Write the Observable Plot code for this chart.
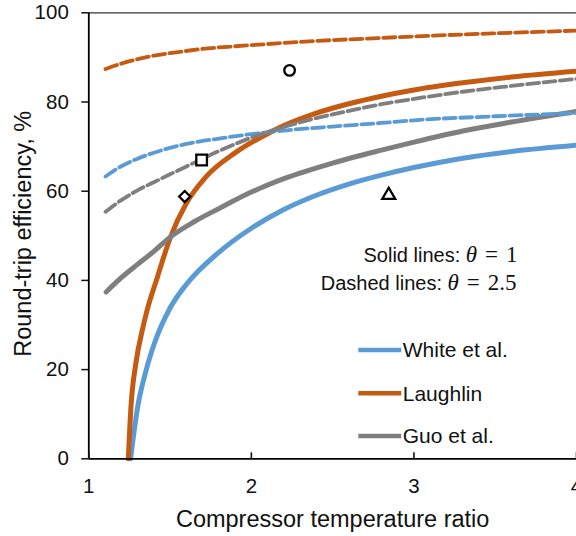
<!DOCTYPE html>
<html><head><meta charset="utf-8">
<script src="https://cdn.jsdelivr.net/npm/d3@7"></script>
<script src="https://cdn.jsdelivr.net/npm/@observablehq/plot@0.6"></script>
<style>body{margin:0;background:#fff}</style>
</head><body><div id="chart"></div>
<script>
// ---- data ----
const xTicks = [1, 2, 3, 4];
const yTicks = [0, 20, 40, 60, 80, 100];
const xLabel = "Compressor temperature ratio";
const yLabel = "Round-trip efficiency, %";

const seriesNames = ["White et al.", "Laughlin", "Guo et al."];
const seriesColors = ["#5B9BD5", "#C55A11", "#7F7F7F"];

// Solid lines: theta = 1
const whiteSolidX = [1.257, 1.30, 1.35, 1.40, 1.50, 1.60, 1.80, 2.00, 2.20, 2.40, 2.60, 2.80, 3.00, 3.30, 3.60, 4.00];
const whiteSolidY = [0, 11.5, 19.5, 25.5, 33.8, 39.1, 46.3, 51.7, 55.9, 59.1, 61.6, 63.6, 65.3, 67.4, 68.9, 70.3];
const laughSolidX = [1.243, 1.26, 1.29, 1.33, 1.36, 1.42, 1.50, 1.60, 1.72, 1.90, 2.10, 2.20, 2.40, 2.60, 2.80, 3.00, 3.30, 3.60, 4.00];
const laughSolidY = [0, 12, 21.5, 29, 33.5, 40.5, 49.5, 57.3, 63.2, 68.6, 72.9, 74.7, 77.5, 79.6, 81.3, 82.7, 84.3, 85.6, 86.9];
const guoSolidX = [1.107, 1.20, 1.30, 1.40, 1.50, 1.65, 1.80, 2.00, 2.20, 2.50, 2.80, 3.00, 3.30, 3.60, 4.00];
const guoSolidY = [37.4, 40.6, 43.6, 46.5, 49.7, 53.2, 56.1, 59.8, 62.8, 66.3, 69.2, 71.0, 73.5, 75.5, 77.9];

// Dashed lines: theta = 2.5
const whiteDashX = [1.103, 1.20, 1.30, 1.45, 1.60, 1.80, 2.00, 2.20, 2.50, 2.80, 3.00, 3.50, 4.00];
const whiteDashY = [63.3, 65.6, 67.3, 69.2, 70.6, 71.8, 72.8, 73.6, 74.5, 75.3, 75.9, 76.8, 77.5];
const laughDashX = [1.103, 1.20, 1.30, 1.40, 1.55, 1.70, 1.90, 2.10, 2.40, 2.70, 3.00, 3.50, 4.00];
const laughDashY = [87.4, 88.6, 89.6, 90.4, 91.2, 91.9, 92.5, 93.0, 93.7, 94.2, 94.7, 95.4, 96.0];
const guoDashX = [1.103, 1.20, 1.30, 1.40, 1.50, 1.65, 1.80, 2.00, 2.20, 2.40, 2.60, 2.80, 3.00, 3.30, 3.60, 4.00];
const guoDashY = [55.4, 58.0, 60.2, 62.0, 63.8, 66.4, 69.0, 72.0, 74.4, 76.4, 78.0, 79.5, 80.7, 82.3, 83.6, 85.2];

// Experimental points
const pointX = [2.235, 1.694, 1.59, 2.845];
const pointY = [87.1, 67.0, 58.8, 59.1];
const pointSymbol = ["circle", "square", "diamond2", "triangle"];
const pointR = [5.3, 6.0, 5.0, 4.8];

const annotationLines = [["Solid lines: ", "θ", "=", "1"], ["Dashed lines: ", "θ", "=", "2.5"]];

// ---- build ----
const toRows = (xs, ys) => xs.map((x, i) => ({x, y: ys[i]}));
const solids = [[whiteSolidX, whiteSolidY], [laughSolidX, laughSolidY], [guoSolidX, guoSolidY]];
const dashes = [[whiteDashX, whiteDashY], [laughDashX, laughDashY], [guoDashX, guoDashY]];

const font = "'Liberation Sans', Arial, sans-serif";
const W = 576, H = 536, mL = 88.3, mR = 0, mT = 12.3, mB = 77.7;

const marks = [];
marks.push(Plot.ruleY([100], {stroke: "#333", strokeWidth: 1.3}));
solids.forEach(([xs, ys], i) => marks.push(Plot.line(toRows(xs, ys), {x: "x", y: "y", stroke: seriesColors[i], strokeWidth: 5, curve: "monotone-x"})));
dashes.forEach(([xs, ys], i) => marks.push(Plot.line(toRows(xs, ys), {x: "x", y: "y", stroke: seriesColors[i], strokeWidth: 3.8, strokeDasharray: "12,4.5", curve: "monotone-x"})));
pointX.forEach((x, i) => marks.push(Plot.dot([{x, y: pointY[i]}], {x: "x", y: "y", symbol: pointSymbol[i], r: pointR[i], fill: "white", stroke: "black", strokeWidth: 2.3})));
marks.push(Plot.ruleX([1], {stroke: "#000", strokeWidth: 1.8}));
marks.push(Plot.ruleY([0], {stroke: "#000", strokeWidth: 1.8}));
marks.push(Plot.axisY({ticks: yTicks, tickSize: 7, tickPadding: 13, label: null, fontSize: 20.5, strokeWidth: 1.5, tickFormat: d => String(d)}));
// inward x ticks
marks.push(Plot.axisX({ticks: xTicks, tickSize: 6, dy: -6, label: null, strokeWidth: 1.6, tickFormat: () => ""}));
marks.push(Plot.axisX({ticks: xTicks, tickSize: 0, tickPadding: 20, label: null, fontSize: 20.5, tickFormat: d => String(d)}));
marks.push(Plot.text([yLabel], {frameAnchor: "left", textAnchor: "middle", lineAnchor: "middle", rotate: -90, dx: -65.5, dy: -2, fontSize: 23.5, fill: "#111"}));
marks.push(Plot.text([xLabel], {frameAnchor: "bottom", textAnchor: "middle", lineAnchor: "middle", dy: 61, fontSize: 23.5, fill: "#111"}));

const plot = Plot.plot({
  width: W, height: H,
  marginTop: mT, marginBottom: mB, marginLeft: mL, marginRight: mR,
  x: {domain: [1, 4]},
  y: {domain: [0, 100]},
  style: {fontFamily: font, color: "#111", background: "white"},
  marks
});
document.getElementById("chart").appendChild(plot);

// ---- annotation & legend ----
const sx = plot.scale("x"), sy = plot.scale("y");
const svg = d3.select(plot);
const ann = svg.append("g").attr("font-family", font).attr("font-size", 20).attr("fill", "#111").attr("text-anchor", "start");
const annAnchors = [[2.693, 44.1], [2.43, 37.7]];
annotationLines.forEach((parts, i) => {
  const t = ann.append("text").attr("x", sx.apply(annAnchors[i][0])).attr("y", sy.apply(annAnchors[i][1]));
  t.append("tspan").text(parts[0]);
  t.append("tspan").attr("font-family", "'Liberation Serif', serif").attr("font-style", "italic").attr("font-size", 23).text(parts[1]);
  t.append("tspan").attr("font-family", "'Liberation Serif', serif").attr("font-size", 23).attr("dx", 8).text(parts[2]);
  t.append("tspan").attr("font-family", "'Liberation Serif', serif").attr("font-size", 23).attr("dx", 8).text(parts[3]);
});
const leg = svg.append("g").attr("font-family", font).attr("font-size", 21).attr("fill", "#111").attr("text-anchor", "start");
const legX0 = 2.661, legX1 = 2.925, legY = [24.3, 14.6, 5.0];
seriesNames.forEach((name, i) => {
  const y = sy.apply(legY[i]);
  leg.append("line").attr("x1", sx.apply(legX0)).attr("x2", sx.apply(legX1)).attr("y1", y).attr("y2", y)
    .attr("stroke", seriesColors[i]).attr("stroke-width", 4.5);
  leg.append("text").attr("x", sx.apply(legX1) + 1.5).attr("y", y).attr("dy", "0.35em").text(name);
});
</script>
</body></html>
